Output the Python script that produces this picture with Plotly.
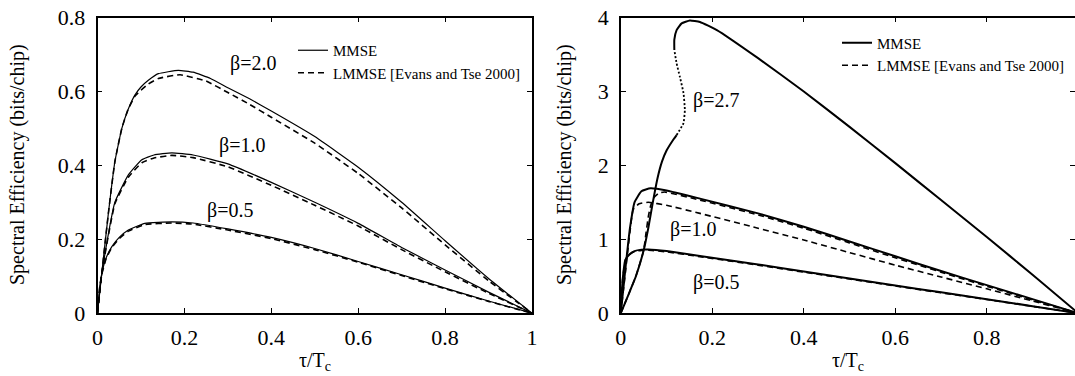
import plotly.graph_objects as go

# ---------------- Left panel data ----------------
xl_b20_mmse = [0, 0.01, 0.025, 0.04, 0.056, 0.07, 0.086, 0.1, 0.117, 0.14, 0.186, 0.22, 0.26, 0.3, 0.35, 0.4, 0.5, 0.6, 0.7, 0.8, 0.9, 1.0]
yl_b20_mmse = [0, 0.11, 0.27, 0.41, 0.5, 0.55, 0.59, 0.612, 0.63, 0.648, 0.657, 0.652, 0.635, 0.61, 0.58, 0.547, 0.478, 0.395, 0.3, 0.196, 0.094, 0]
xl_b20_lmmse = [0, 0.01, 0.025, 0.04, 0.056, 0.07, 0.086, 0.1, 0.117, 0.14, 0.19, 0.25, 0.3, 0.35, 0.4, 0.5, 0.6, 0.7, 0.8, 0.9, 1.0]
yl_b20_lmmse = [0, 0.11, 0.27, 0.41, 0.5, 0.55, 0.587, 0.603, 0.62, 0.635, 0.645, 0.628, 0.597, 0.565, 0.53, 0.46, 0.378, 0.285, 0.185, 0.088, 0]

xl_b10 = [0, 0.008, 0.017, 0.04, 0.071, 0.102, 0.13, 0.171, 0.22, 0.3, 0.4, 0.5, 0.6, 0.7, 0.8, 0.9, 1.0]
yl_b10_mmse = [0, 0.09, 0.16, 0.30, 0.374, 0.415, 0.428, 0.434, 0.428, 0.404, 0.354, 0.3, 0.243, 0.178, 0.117, 0.057, 0]
yl_b10_lmmse = [0, 0.09, 0.158, 0.296, 0.368, 0.407, 0.42, 0.427, 0.421, 0.396, 0.346, 0.292, 0.236, 0.172, 0.112, 0.054, 0]

xl_b05 = [0, 0.005, 0.01, 0.02, 0.033, 0.05, 0.071, 0.109, 0.171, 0.22, 0.3, 0.4, 0.5, 0.6, 0.7, 0.8, 0.9, 1.0]
yl_b05_mmse = [0, 0.07, 0.108, 0.15, 0.18, 0.205, 0.225, 0.243, 0.247, 0.244, 0.228, 0.205, 0.175, 0.14, 0.104, 0.068, 0.033, 0]
yl_b05_lmmse = [0, 0.07, 0.106, 0.148, 0.178, 0.202, 0.222, 0.24, 0.244, 0.241, 0.225, 0.202, 0.172, 0.138, 0.102, 0.066, 0.032, 0]

# ---------------- Right panel data ----------------
xr_b05 = [0, 0.004, 0.01, 0.02, 0.03, 0.045, 0.06, 0.1, 0.173, 0.3, 0.4, 0.5, 0.6, 0.7, 0.8, 0.9, 1.0]
yr_b05_mmse = [0, 0.45, 0.72, 0.8, 0.84, 0.86, 0.862, 0.84, 0.775, 0.66, 0.565, 0.47, 0.375, 0.282, 0.19, 0.095, 0]
yr_b05_lmmse = [0, 0.45, 0.72, 0.8, 0.835, 0.85, 0.852, 0.83, 0.765, 0.65, 0.555, 0.462, 0.368, 0.276, 0.185, 0.092, 0]

xr_b10_mmse = [0, 0.01, 0.02, 0.03, 0.045, 0.065, 0.1, 0.173, 0.3, 0.4, 0.5, 0.6, 0.7, 0.8, 0.9, 1.0]
yr_b10_mmse = [0, 0.6, 1.15, 1.5, 1.65, 1.69, 1.66, 1.55, 1.35, 1.17, 0.97, 0.77, 0.57, 0.38, 0.19, 0]
xr_b10_lmmse = [0, 0.01, 0.02, 0.027, 0.04, 0.06, 0.1, 0.173, 0.3, 0.4, 0.5, 0.6, 0.7, 0.8, 0.9, 1.0]
yr_b10_lmmse = [0, 0.55, 1.1, 1.4, 1.48, 1.5, 1.46, 1.35, 1.15, 0.99, 0.82, 0.65, 0.49, 0.33, 0.165, 0]

xr_b27_low = [0, 0.02, 0.033, 0.05, 0.06, 0.07, 0.08, 0.09, 0.1, 0.115, 0.122]
yr_b27_low = [0, 0.3, 0.5, 0.85, 1.15, 1.5, 1.82, 2.05, 2.2, 2.35, 2.41]
xr_b27_unstable = [0.122, 0.137, 0.140, 0.137, 0.129, 0.122, 0.117]
yr_b27_unstable = [2.41, 2.57, 2.75, 2.98, 3.20, 3.38, 3.56]
xr_b27_high = [0.117, 0.117, 0.122, 0.133, 0.151, 0.173, 0.21, 0.3, 0.4, 0.5, 0.6, 0.7, 0.8, 0.9, 1.0]
yr_b27_high = [3.56, 3.70, 3.83, 3.92, 3.96, 3.94, 3.83, 3.45, 3.0, 2.52, 2.03, 1.53, 1.03, 0.52, 0]
xr_b27_lmmse = [0, 0.02, 0.033, 0.05, 0.055, 0.06, 0.065, 0.072, 0.082, 0.095, 0.173, 0.3, 0.4, 0.5, 0.6, 0.7, 0.8, 0.9, 1.0]
yr_b27_lmmse = [0, 0.3, 0.5, 0.85, 1.08, 1.3, 1.45, 1.56, 1.62, 1.64, 1.53, 1.33, 1.15, 0.95, 0.75, 0.555, 0.365, 0.18, 0]

# labels
legend_names = ["MMSE", "LMMSE [Evans and Tse 2000]"]
left_labels = ["β=2.0", "β=1.0", "β=0.5"]
left_label_x = [0.357, 0.332, 0.304]
left_label_y = [0.676, 0.455, 0.277]
right_labels = ["β=2.7", "β=1.0", "β=0.5"]
right_label_x = [0.209, 0.157, 0.209]
right_label_y = [2.88, 1.135, 0.41]
xtitle = "τ/T<sub>c</sub>"
ytitle = "Spectral Efficiency (bits/chip)"

FONT = "Liberation Serif, Times New Roman, serif"
W, H = 1075, 376
DASH = "6px,4px"

fig = go.Figure()

def add(x, y, ax, dash, width, name=None, legend=None):
    fig.add_trace(go.Scatter(
        x=x, y=y, mode="lines", xaxis=ax[0], yaxis=ax[1],
        line=dict(color="black", width=width, dash=dash, shape="spline", smoothing=0.4),
        name=name if name else "", showlegend=name is not None,
        legend=legend if legend else "legend", hoverinfo="skip"))

L = ("x", "y")
R = ("x2", "y2")
# left
add(xl_b20_mmse, yl_b20_mmse, L, "solid", 1.2, legend_names[0], "legend")
add(xl_b20_lmmse, yl_b20_lmmse, L, DASH, 1.6, legend_names[1], "legend")
add(xl_b10, yl_b10_mmse, L, "solid", 1.2)
add(xl_b10, yl_b10_lmmse, L, DASH, 1.6)
add(xl_b05, yl_b05_mmse, L, "solid", 1.2)
add(xl_b05, yl_b05_lmmse, L, DASH, 1.6)
# right
add(xr_b27_high, yr_b27_high, R, "solid", 2, legend_names[0], "legend2")
add(xr_b27_lmmse, yr_b27_lmmse, R, DASH, 1.6, legend_names[1], "legend2")
add(xr_b27_low, yr_b27_low, R, "solid", 2)
add(xr_b27_unstable, yr_b27_unstable, R, "2px,2px", 1.8)
add(xr_b10_mmse, yr_b10_mmse, R, "solid", 2)
add(xr_b10_lmmse, yr_b10_lmmse, R, DASH, 1.6)
add(xr_b05, yr_b05_mmse, R, "solid", 2)
add(xr_b05, yr_b05_lmmse, R, DASH, 1.6)

ydom = [(H - 313.2) / H, (H - 17.5) / H]
axis_common = dict(showline=True, linecolor="black", linewidth=1.5, mirror="ticks",
                   ticks="inside", ticklen=5, tickwidth=1, tickcolor="black",
                   showgrid=False, zeroline=False, automargin=False,
                   tickfont=dict(family=FONT, size=22, color="black"))

fig.update_layout(
    width=W, height=H, margin=dict(l=0, r=0, t=0, b=0),
    paper_bgcolor="white", plot_bgcolor="white",
    font=dict(family=FONT, color="black"),
    xaxis=dict(domain=[97.5 / W, 532 / W], range=[0, 1], tickvals=[0, 0.2, 0.4, 0.6, 0.8, 1],
               ticktext=["0", "0.2", "0.4", "0.6", "0.8", "1"], anchor="y",
               ticklabelstandoff=4, **axis_common),
    yaxis=dict(domain=ydom, range=[0, 0.8], tickvals=[0, 0.2, 0.4, 0.6, 0.8],
               ticktext=["0", "0.2", "0.4", "0.6", "0.8"], anchor="x", ticklabelstandoff=6, **axis_common),
    xaxis2=dict(domain=[620.8 / W, 1.0], range=[0, 0.9928], tickvals=[0, 0.2, 0.4, 0.6, 0.8],
                ticktext=["0", "0.2", "0.4", "0.6", "0.8"], anchor="y2",
                ticklabelstandoff=4, **axis_common),
    yaxis2=dict(domain=ydom, range=[0, 4], tickvals=[0, 1, 2, 3, 4],
                ticktext=["0", "1", "2", "3", "4"], anchor="x2", ticklabelstandoff=6, **axis_common),
    legend=dict(x=293 / W, y=(H - 34) / H, xanchor="left", yanchor="top",
                bgcolor="rgba(0,0,0,0)", font=dict(family=FONT, size=15, color="black"),
                tracegroupgap=0),
    legend2=dict(x=837 / W, y=(H - 26.5) / H, xanchor="left", yanchor="top",
                 bgcolor="rgba(0,0,0,0)", font=dict(family=FONT, size=15, color="black"),
                 tracegroupgap=0),
)

ann = []
for t, x, y in zip(left_labels, left_label_x, left_label_y):
    ann.append(dict(text=t, x=x, y=y, xref="x", yref="y", showarrow=False,
                    font=dict(family=FONT, size=20, color="black")))
for t, x, y in zip(right_labels, right_label_x, right_label_y):
    ann.append(dict(text=t, x=x, y=y, xref="x2", yref="y2", showarrow=False,
                    font=dict(family=FONT, size=20, color="black")))
for cx in [(97.5 + 532) / 2 / W, (620.8 + 1075) / 2 / W]:
    ann.append(dict(text=xtitle, x=cx, y=(H - 361) / H, xref="paper", yref="paper",
                    showarrow=False, xanchor="center", yanchor="middle",
                    font=dict(family=FONT, size=20, color="black")))
for cx in [17 / W, 564 / W]:
    ann.append(dict(text=ytitle, x=cx, y=(H - 165) / H, xref="paper", yref="paper",
                    showarrow=False, xanchor="center", yanchor="middle", textangle=-90,
                    font=dict(family=FONT, size=20, color="black")))
fig.update_layout(annotations=ann)

fig.write_html("out.html", config={"displayModeBar": False},
               post_script="document.body.style.margin='0px';")
